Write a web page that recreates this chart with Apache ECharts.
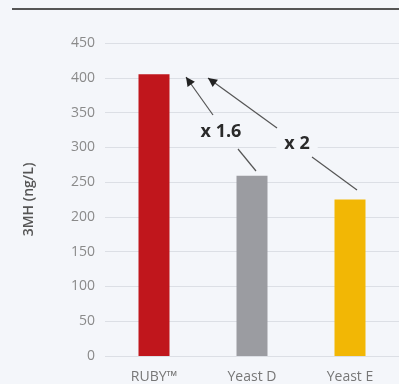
<!DOCTYPE html>
<html>
<head>
<meta charset="utf-8">
<script src="https://cdn.jsdelivr.net/npm/echarts@6/dist/echarts.min.js"></script>
<style>
  html, body { margin: 0; padding: 0; background: #f4f6fa; }
  #main { width: 399px; height: 384px; }
</style>
</head>
<body>
<div id="main"></div>
<script>
    var categories = ['RUBY™', 'Yeast D', 'Yeast E'];
    var values = [405, 259, 225];
    var barColors = ['#c0161c', '#9b9ca1', '#f2b705'];
    var yTicks = [0, 50, 100, 150, 200, 250, 300, 350, 400, 450];

    var myChart = echarts.init(document.getElementById('main'));

    // arrow with a filled head, from (x1,y1) to tip (x2,y2)
    function arrow(x1, y1, x2, y2, head) {
        var els = [{
            type: 'line',
            z: 10,
            shape: {x1: x1, y1: y1, x2: x2, y2: y2},
            style: {stroke: '#555', lineWidth: 1.2}
        }];
        if (head) {
            var a = Math.atan2(y2 - y1, x2 - x1), L = 9, W = 4.5;
            var bx = x2 - L * Math.cos(a), by = y2 - L * Math.sin(a);
            els.push({
                type: 'polygon',
                z: 10,
                shape: {points: [[x2, y2],
                    [bx + W * Math.sin(a), by - W * Math.cos(a)],
                    [bx - W * Math.sin(a), by + W * Math.cos(a)]]},
                style: {fill: '#222'}
            });
        }
        return els;
    }

    var graphics = [{
        type: 'line',
        shape: {x1: 12, y1: 9, x2: 399, y2: 9},
        style: {stroke: '#555', lineWidth: 2}
    }];
    graphics = graphics
        .concat(arrow(256, 171, 238, 149, false))
        .concat(arrow(213, 115, 186, 77, true))
        .concat(arrow(277, 128, 208, 78, true))
        .concat(arrow(312, 157, 357, 190, false));
    graphics.push({
        type: 'text', x: 221, y: 132, z: 11,
        style: {text: 'x 1.6', font: 'bold 18px "Open Sans"', fill: '#2a2a2a', align: 'center', verticalAlign: 'middle'}
    });
    graphics.push({
        type: 'text', x: 297, y: 144, z: 11,
        style: {text: 'x 2', font: 'bold 18px "Open Sans"', fill: '#2a2a2a', align: 'center', verticalAlign: 'middle',
            backgroundColor: '#f4f6fa', padding: [1, 8]}
    });

    var option = {
        backgroundColor: '#f4f6fa',
        animation: false,
        grid: {left: 105, right: -3, top: 43, bottom: 28, containLabel: false},
        xAxis: {
            type: 'category',
            data: categories,
            axisLine: {show: false},
            axisTick: {show: false},
            axisLabel: {color: '#777', fontFamily: 'Open Sans', fontSize: 14, margin: 14}
        },
        yAxis: {
            type: 'value',
            min: yTicks[0],
            max: yTicks[yTicks.length - 1],
            interval: 50,
            name: '3MH (ng/L)',
            nameLocation: 'middle',
            nameGap: 69,
            nameRotate: 90,
            nameTextStyle: {color: '#555', fontFamily: 'Open Sans', fontSize: 14, fontWeight: 600},
            axisLine: {show: false},
            axisTick: {show: false},
            axisLabel: {color: '#8a8a8a', fontFamily: 'Open Sans', fontSize: 14, margin: 10},
            splitLine: {lineStyle: {color: '#dcdfe5', width: 1}}
        },
        series: [{
            type: 'bar',
            barWidth: 31,
            data: values.map(function (v, i) {
                return {value: v, itemStyle: {color: barColors[i]}};
            })
        }],
        graphic: graphics
    };

    myChart.setOption(option);
</script>
</body>
</html>
